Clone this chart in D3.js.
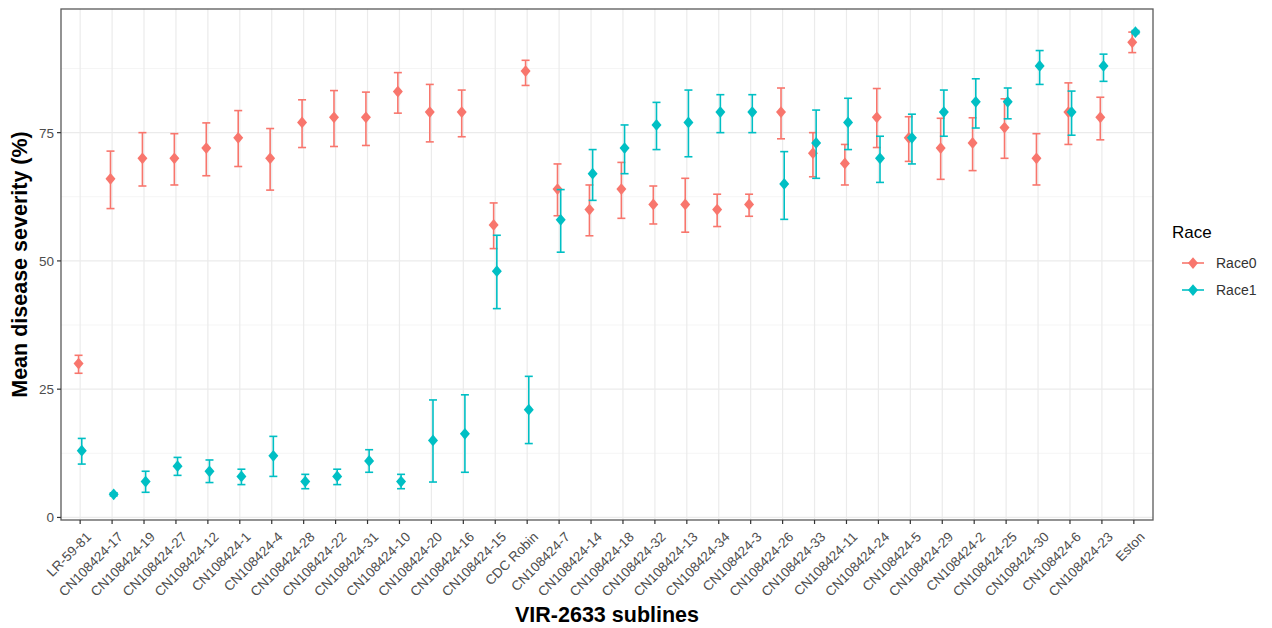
<!DOCTYPE html>
<html>
<head>
<meta charset="utf-8">
<script src="https://cdn.jsdelivr.net/npm/d3@7"></script>
<style>
  body { margin: 0; background: white; }
  text { font-family: "Liberation Sans", Arial, sans-serif; }
</style>
</head>
<body>
<svg></svg>
<script>
// sublines in plotting order
const sublines = ["LR-59-81", "CN108424-17", "CN108424-19", "CN108424-27", "CN108424-12",
    "CN108424-1", "CN108424-4", "CN108424-28", "CN108424-22", "CN108424-31", "CN108424-10",
    "CN108424-20", "CN108424-16", "CN108424-15", "CDC Robin", "CN108424-7", "CN108424-14",
    "CN108424-18", "CN108424-32", "CN108424-13", "CN108424-34", "CN108424-3", "CN108424-26",
    "CN108424-33", "CN108424-11", "CN108424-24", "CN108424-5", "CN108424-29", "CN108424-2",
    "CN108424-25", "CN108424-30", "CN108424-6", "CN108424-23", "Eston"];

// Race0 means and error bar ends
const race0_mean = [30, 66, 70, 70, 72, 74, 70, 77, 78, 78, 83, 79, 79, 57, 87, 64, 60, 64,
    61, 61, 60, 61, 79, 71, 69, 78, 74, 72, 73, 76, 70, 79, 78, 92.6];
const race0_low = [28.1, 60.2, 64.6, 64.8, 66.6, 68.4, 63.8, 72.1, 72.3, 72.5, 78.8, 73.2, 74.2,
    52.4, 84.2, 58.8, 54.9, 58.3, 57.2, 55.6, 56.7, 58.7, 73.8, 66.4, 64.8, 72.1, 69.4, 65.9,
    67.6, 70.0, 64.8, 72.7, 73.6, 90.6];
const race0_high = [31.6, 71.4, 75.0, 74.8, 76.9, 79.3, 75.8, 81.4, 83.2, 82.9, 86.7, 84.4, 83.3,
    61.3, 89.1, 68.9, 64.8, 69.2, 64.6, 66.1, 63.0, 63.0, 83.7, 75.0, 72.7, 83.6, 78.1, 77.8,
    77.9, 81.6, 74.8, 84.7, 81.9, 94.6];

// Race1 means and error bar ends
const race1_mean = [13, 4.5, 7, 10, 9, 8, 12, 7, 8, 11, 7, 15, 16.3, 48, 21, 58, 67, 72,
    76.5, 77, 79, 79, 65, 73, 77, 70, 74, 79, 81, 81, 88, 79, 88, 94.6];
const race1_low = [10.4, 4.2, 4.9, 8.2, 6.8, 6.4, 8.0, 5.6, 6.4, 8.8, 5.6, 6.9, 8.8, 40.7, 14.4,
    51.7, 61.8, 67.0, 71.7, 70.3, 75.0, 75.0, 58.1, 66.1, 71.7, 65.3, 68.9, 74.3, 75.9, 77.7,
    84.4, 74.5, 85.0, 94.3];
const race1_high = [15.4, 4.8, 9.0, 11.7, 11.2, 9.4, 15.8, 8.4, 9.4, 13.2, 8.4, 22.9, 23.9, 55.0,
    27.5, 63.9, 71.7, 76.5, 80.9, 83.3, 82.4, 82.4, 71.3, 79.4, 81.7, 74.3, 78.6, 83.3, 85.5,
    83.7, 91.0, 83.1, 90.3, 94.9];

const races = ["Race0", "Race1"];
const race_colors = ["#F8766D", "#00BFC4"];
const y_ticks = [0, 25, 50, 75];
const y_minor = [12.5, 37.5, 62.5, 87.5];

const svg_width = 1272;
const svg_height = 628;
const svg = d3.select("svg")
    .attr("width", svg_width)
    .attr("height", svg_height);

const panel = {left: 61, right: 1153, top: 9, bottom: 520};

const x = d3.scalePoint()
    .domain(sublines)
    .range([panel.left, panel.right])
    .padding(0.6);

const y = d3.scaleLinear()
    .domain([-0.5, 99.1])
    .range([panel.bottom, panel.top]);

const dodge = d3.scalePoint()
    .domain(races)
    .range([-1.6, 1.6]);

// grid
const grid = svg.append("g");
y_minor.forEach(v => {
    grid.append("line")
        .attr("x1", panel.left).attr("x2", panel.right)
        .attr("y1", y(v)).attr("y2", y(v))
        .attr("stroke", "#F2F2F2").attr("stroke-width", 0.8);
});
y_ticks.forEach(v => {
    grid.append("line")
        .attr("x1", panel.left).attr("x2", panel.right)
        .attr("y1", y(v)).attr("y2", y(v))
        .attr("stroke", "#EBEBEB").attr("stroke-width", 1.2);
});
sublines.forEach(s => {
    grid.append("line")
        .attr("x1", x(s)).attr("x2", x(s))
        .attr("y1", panel.top).attr("y2", panel.bottom)
        .attr("stroke", "#EBEBEB").attr("stroke-width", 1.2);
});

// build rows for each race
const series = [
    {race: "Race0", mean: race0_mean, low: race0_low, high: race0_high},
    {race: "Race1", mean: race1_mean, low: race1_low, high: race1_high}
];

const diamond = d3.symbol().type(d3.symbolDiamond2).size(88);

series.forEach((s, k) => {
    const color = race_colors[k];
    const rows = sublines.map((name, i) => ({
        name: name, mean: s.mean[i], low: s.low[i], high: s.high[i]
    }));
    const g = svg.append("g");
    const cx = d => x(d.name) + dodge(s.race);
    const cap = 4;

    g.selectAll(".bar").data(rows).join("line")
        .attr("x1", cx).attr("x2", cx)
        .attr("y1", d => y(d.low)).attr("y2", d => y(d.high))
        .attr("stroke", color).attr("stroke-width", 1.6);
    g.selectAll(".top").data(rows).join("line")
        .attr("x1", d => cx(d) - cap).attr("x2", d => cx(d) + cap)
        .attr("y1", d => y(d.high)).attr("y2", d => y(d.high))
        .attr("stroke", color).attr("stroke-width", 1.6);
    g.selectAll(".bottom").data(rows).join("line")
        .attr("x1", d => cx(d) - cap).attr("x2", d => cx(d) + cap)
        .attr("y1", d => y(d.low)).attr("y2", d => y(d.low))
        .attr("stroke", color).attr("stroke-width", 1.6);
    g.selectAll(".pt").data(rows).join("path")
        .attr("d", diamond)
        .attr("transform", d => `translate(${cx(d)},${y(d.mean)}) scale(0.85,1)`)
        .attr("fill", color);
});

// panel border
svg.append("rect")
    .attr("x", panel.left).attr("y", panel.top)
    .attr("width", panel.right - panel.left)
    .attr("height", panel.bottom - panel.top)
    .attr("fill", "none")
    .attr("stroke", "#595959")
    .attr("stroke-width", 1.3);

// y axis
const y_axis = svg.append("g");
y_ticks.forEach(v => {
    y_axis.append("line")
        .attr("x1", panel.left - 4).attr("x2", panel.left)
        .attr("y1", y(v)).attr("y2", y(v))
        .attr("stroke", "#333333").attr("stroke-width", 1.2);
    y_axis.append("text")
        .attr("x", panel.left - 7)
        .attr("y", y(v))
        .attr("dy", "0.36em")
        .attr("text-anchor", "end")
        .attr("font-size", 13.5)
        .attr("fill", "#4D4D4D")
        .text(v);
});

// x axis
const x_axis = svg.append("g");
sublines.forEach(s => {
    x_axis.append("line")
        .attr("x1", x(s)).attr("x2", x(s))
        .attr("y1", panel.bottom).attr("y2", panel.bottom + 4)
        .attr("stroke", "#333333").attr("stroke-width", 1.2);
    x_axis.append("text")
        .attr("transform", `translate(${x(s) + 5},${panel.bottom + 11}) rotate(-45)`)
        .attr("dy", "0.71em")
        .attr("text-anchor", "end")
        .attr("font-size", 13.5)
        .attr("fill", "#4D4D4D")
        .text(s);
});

// axis titles
svg.append("text")
    .attr("x", (panel.left + panel.right) / 2)
    .attr("y", 622)
    .attr("text-anchor", "middle")
    .attr("font-size", 21.5)
    .attr("font-weight", "bold")
    .attr("fill", "black")
    .text("VIR-2633 sublines");

svg.append("text")
    .attr("transform", `translate(27,${(panel.top + panel.bottom) / 2}) rotate(-90)`)
    .attr("text-anchor", "middle")
    .attr("font-size", 21.5)
    .attr("font-weight", "bold")
    .attr("fill", "black")
    .text("Mean disease severity (%)");

// legend
const legend = svg.append("g");
legend.append("text")
    .attr("x", 1172).attr("y", 238)
    .attr("font-size", 17)
    .attr("fill", "black")
    .text("Race");
races.forEach((r, i) => {
    const ly = 263 + i * 27;
    legend.append("line")
        .attr("x1", 1182).attr("x2", 1204)
        .attr("y1", ly).attr("y2", ly)
        .attr("stroke", race_colors[i]).attr("stroke-width", 1.6);
    legend.append("path")
        .attr("d", diamond)
        .attr("transform", `translate(1193,${ly}) scale(0.85,1)`)
        .attr("fill", race_colors[i]);
    legend.append("text")
        .attr("x", 1216).attr("y", ly)
        .attr("dy", "0.36em")
        .attr("font-size", 14)
        .attr("fill", "#333333")
        .text(r);
});
</script>
</body>
</html>
